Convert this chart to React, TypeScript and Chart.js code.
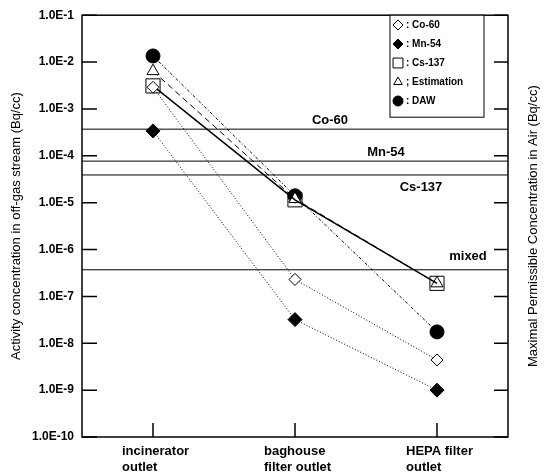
import React, { useEffect, useRef } from "react";
import { Chart, registerables } from "chart.js";
import { drawPoint } from "chart.js/helpers";

Chart.register(...registerables);

// ---- data ----
const categories: string[][] = [
  ["incinerator", "outlet"],
  ["baghouse", "filter outlet"],
  ["HEPA filter", "outlet"],
];
const yTickValues = [1e-10, 1e-9, 1e-8, 1e-7, 1e-6, 1e-5, 1e-4, 1e-3, 1e-2, 1e-1];

const co60 = [2.9e-3, 2.3e-7, 4.4e-9];
const mn54 = [3.4e-4, 3.2e-8, 1.0e-9];
const cs137 = [3.1e-3, 1.15e-5, 1.9e-7];
const estimation = [6.4e-3, 1.2e-5, 1.9e-7];
const daw = [1.35e-2, 1.4e-5, 1.75e-8];

const limitNames = ["Co-60", "Mn-54", "Cs-137", "mixed"];
const limitValues = [3.7e-4, 7.7e-5, 3.9e-5, 3.7e-7];

const legendLabels = [": Co-60", ": Mn-54", ": Cs-137", "; Estimation", ": DAW"];

const leftTitle = "Activity concentration in off-gas stream (Bq/cc)";
const rightTitle = "Maximal Permissible Concentration in Air (Bq/cc)";

// ---- styles ----
const FONT = 'Arial, "Liberation Sans", Helvetica, sans-serif';
const limitLabelX = [330, 386, 421, 468];
const limitLabelDy = [-9, -9, 12, -13];

const seriesStyles = [
  { style: "rectRot", radius: 6, fill: "#fff", dash: [1, 2], width: 1 },
  { style: "rectRot", radius: 7, fill: "#000", dash: [1, 2], width: 1 },
  { style: "rect", radius: 10, fill: "rgba(0,0,0,0)", dash: [], width: 1.5 },
  { style: "triangle", radius: 7, fill: "#fff", dash: [6, 4], width: 1 },
  { style: "circle", radius: 7, fill: "#000", dash: [3, 2, 1, 2], width: 1 },
];
const legendStyles = [
  { style: "rectRot", radius: 5, fill: "#fff" },
  { style: "rectRot", radius: 5, fill: "#000" },
  { style: "rect", radius: 7, fill: "#fff" },
  { style: "triangle", radius: 5, fill: "#fff" },
  { style: "circle", radius: 5, fill: "#000" },
];

const formatE = (v: number) => {
  const e = Math.round(Math.log10(v));
  const m = v / Math.pow(10, e);
  return `${m.toFixed(1)}E${e < 0 ? "-" : "+"}${Math.abs(e)}`;
};

const toPoints = (arr: number[]) => arr.map((v, i) => ({ x: i, y: v }));

const decorPlugin = {
  id: "decor",
  afterDraw(chart: any) {
    const { ctx, chartArea } = chart;
    const { left, right, top, bottom } = chartArea;
    const xs = chart.scales.x;
    const ys = chart.scales.y;
    ctx.save();
    ctx.strokeStyle = "#000";
    ctx.fillStyle = "#000";

    // frame
    ctx.lineWidth = 1.5;
    ctx.setLineDash([]);
    ctx.strokeRect(left, top, right - left, bottom - top);

    // inward ticks
    ctx.lineWidth = 1.5;
    ctx.beginPath();
    yTickValues.forEach((v) => {
      const py = ys.getPixelForValue(v);
      ctx.moveTo(left, py);
      ctx.lineTo(left + 15, py);
      ctx.moveTo(right, py);
      ctx.lineTo(right - 14, py);
    });
    categories.forEach((_, i) => {
      const px = xs.getPixelForValue(i);
      ctx.moveTo(px, bottom);
      ctx.lineTo(px, bottom - 14);
    });
    ctx.stroke();

    // limit labels
    ctx.font = `bold 13px ${FONT}`;
    ctx.textAlign = "center";
    ctx.textBaseline = "middle";
    limitNames.forEach((n, i) => {
      const py = ys.getPixelForValue(limitValues[i]);
      ctx.fillText(n, limitLabelX[i], py + limitLabelDy[i]);
    });

    // legend
    const lx = 390, ly = top, lw = 94, lh = 102;
    ctx.fillStyle = "#fff";
    ctx.fillRect(lx, ly, lw, lh);
    ctx.lineWidth = 1;
    ctx.strokeStyle = "#000";
    ctx.strokeRect(lx, ly, lw, lh);
    const rowY = [25, 44, 63, 82, 101];
    legendLabels.forEach((lab, i) => {
      const st = legendStyles[i];
      ctx.fillStyle = st.fill;
      ctx.strokeStyle = "#000";
      ctx.lineWidth = 1;
      drawPoint(ctx, { pointStyle: st.style, rotation: 0, radius: st.radius, borderWidth: 1 } as any, 398, rowY[i]);
      ctx.fillStyle = "#000";
      ctx.font = `bold 10px ${FONT}`;
      ctx.textAlign = "left";
      ctx.textBaseline = "middle";
      ctx.fillText(lab, 406, rowY[i]);
    });

    // right title
    ctx.save();
    ctx.translate(533, (top + bottom) / 2);
    ctx.rotate(-Math.PI / 2);
    ctx.font = `13px ${FONT}`;
    ctx.textAlign = "center";
    ctx.textBaseline = "middle";
    ctx.fillStyle = "#000";
    ctx.fillText(rightTitle, 0, 0);
    ctx.restore();

    ctx.restore();
  },
};

export default function App() {
  const ref = useRef<HTMLCanvasElement | null>(null);
  useEffect(() => {
    if (!ref.current) return;
    const seriesData = [co60, mn54, cs137, estimation, daw];
    const names = ["Co-60", "Mn-54", "Cs-137", "Estimation", "DAW"];
    const datasets: any[] = seriesData.map((arr, i) => {
      const s = seriesStyles[i];
      return {
        label: names[i],
        data: toPoints(arr),
        borderColor: "#000",
        borderWidth: s.width,
        borderDash: s.dash,
        pointStyle: s.style,
        pointRadius: s.radius,
        pointHoverRadius: s.radius,
        pointBackgroundColor: s.fill,
        pointBorderColor: "#000",
        pointBorderWidth: 1,
        tension: 0,
        fill: false,
      };
    });
    limitValues.forEach((v, i) => {
      datasets.push({
        label: limitNames[i],
        data: [
          { x: -0.5, y: v },
          { x: 2.5, y: v },
        ],
        borderColor: "#000",
        borderWidth: 1,
        pointRadius: 0,
        fill: false,
      });
    });

    const chart = new Chart(ref.current, {
      type: "line",
      data: { datasets },
      options: {
        animation: false,
        responsive: false,
        layout: { padding: { top: 15, right: 38, bottom: 0, left: 0 } },
        plugins: { legend: { display: false }, tooltip: { enabled: false } },
        scales: {
          x: {
            type: "linear",
            min: -0.5,
            max: 2.5,
            afterBuildTicks: (s: any) => {
              s.ticks = categories.map((_, i) => ({ value: i }));
            },
            afterFit: (s: any) => {
              s.height = 36;
            },
            ticks: {
              callback: (v: any) => categories[Math.round(Number(v))] ?? "",
              align: "start",
              labelOffset: -31,
              padding: 7,
              maxRotation: 0,
              minRotation: 0,
              autoSkip: false,
              color: "#000",
              font: { family: FONT, size: 13, weight: "bold" },
            },
            grid: { display: false, drawTicks: false },
            border: { display: false },
          },
          y: {
            type: "logarithmic",
            position: "left",
            min: 1e-10,
            max: 1e-1,
            afterBuildTicks: (s: any) => {
              s.ticks = yTickValues.map((v) => ({ value: v }));
            },
            afterFit: (s: any) => {
              s.width = 82;
            },
            ticks: {
              callback: (v: any) => formatE(Number(v)),
              padding: 8,
              autoSkip: false,
              color: "#000",
              font: { family: FONT, size: 12, weight: "bold" },
            },
            grid: { display: false, drawTicks: false },
            border: { display: false },
            title: {
              display: true,
              text: leftTitle,
              color: "#000",
              font: { family: FONT, size: 13 },
              padding: { top: 9, bottom: 0 },
            },
          },
        },
      } as any,
      plugins: [decorPlugin],
    });
    return () => chart.destroy();
  }, []);

  return (
    <div style={{ position: "absolute", left: 0, top: 0, width: 546, height: 473, background: "#fff" }}>
      <canvas ref={ref} width={546} height={473} style={{ display: "block" }} />
    </div>
  );
}
